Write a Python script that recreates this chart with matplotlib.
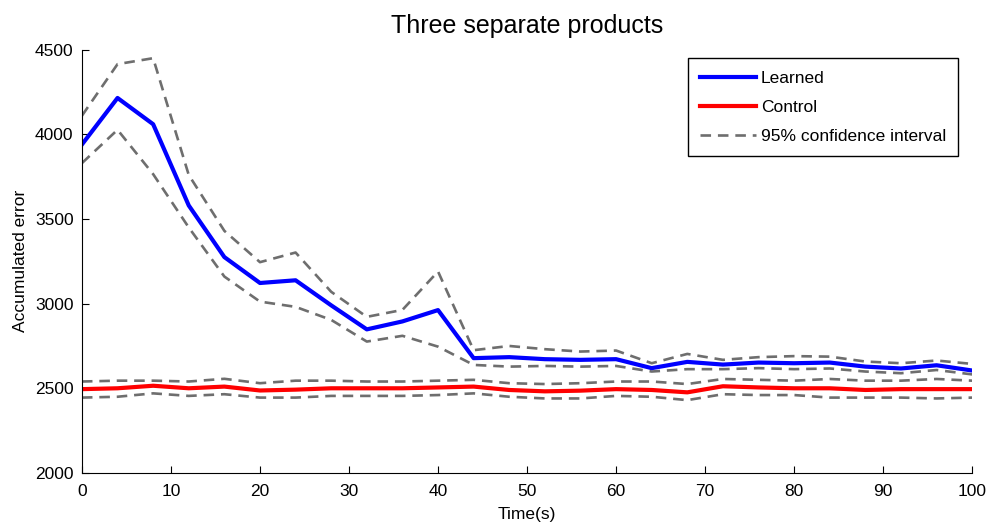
import matplotlib
matplotlib.use("Agg")
import matplotlib.pyplot as plt
import numpy as np

plt.rcParams['font.family'] = ['Liberation Sans', 'DejaVu Sans']

# time axis (s)
t = np.arange(0, 101, 4)

learned = [3940, 4215, 4060, 3580, 3275, 3122, 3138, 2990, 2848, 2895, 2962,
           2678, 2684, 2672, 2668, 2672, 2619, 2656, 2640, 2652, 2648, 2652,
           2628, 2617, 2636, 2605]
learned_hi = [4110, 4415, 4450, 3760, 3430, 3245, 3302, 3070, 2922, 2963, 3190,
              2725, 2750, 2731, 2717, 2723, 2648, 2703, 2668, 2684, 2690, 2687,
              2658, 2648, 2664, 2644]
learned_lo = [3830, 4027, 3765, 3450, 3160, 3012, 2981, 2904, 2776, 2810, 2746,
              2638, 2628, 2632, 2628, 2632, 2599, 2613, 2613, 2619, 2613, 2617,
              2599, 2589, 2608, 2582]

control = [2495, 2500, 2515, 2500, 2510, 2487, 2492, 2500, 2500, 2500, 2505,
           2510, 2490, 2482, 2486, 2495, 2490, 2476, 2512, 2505, 2500, 2500,
           2490, 2495, 2495, 2495]
control_hi = [2540, 2545, 2545, 2540, 2556, 2530, 2545, 2545, 2540, 2540, 2545,
              2550, 2530, 2525, 2530, 2540, 2540, 2525, 2555, 2550, 2545, 2555,
              2545, 2545, 2555, 2545]
control_lo = [2445, 2450, 2470, 2455, 2465, 2445, 2445, 2455, 2455, 2455, 2460,
              2470, 2450, 2440, 2440, 2455, 2450, 2430, 2465, 2460, 2460, 2445,
              2445, 2445, 2440, 2445]

fig = plt.figure(figsize=(9.87, 5.29), dpi=100)
ax = fig.add_axes([0.083, 0.106, 0.902, 0.8])

ci_style = dict(color='#6e6e6e', linewidth=1.9, dashes=(4, 2.6))

ax.plot(t, learned_hi, **ci_style)
ax.plot(t, learned_lo, **ci_style)
ax.plot(t, control_hi, **ci_style)
ax.plot(t, control_lo, **ci_style)
l1, = ax.plot(t, learned, color='#0000ff', linewidth=3)
l2, = ax.plot(t, control, color='#ff0000', linewidth=3)
l3, = ax.plot([], [], **ci_style)

ax.set_xlim(0, 100)
ax.set_ylim(2000, 4500)
ax.set_xticks(np.arange(0, 101, 10))
ax.set_yticks(np.arange(2000, 4501, 500))
ax.tick_params(direction='in', length=5, labelsize=12.5)
ax.tick_params(axis='x', pad=8)
ax.tick_params(axis='y', pad=6)
ax.spines['top'].set_visible(False)
ax.spines['right'].set_visible(False)

ax.set_title("Three separate products", fontsize=18, pad=12)
ax.set_xlabel("Time(s)", fontsize=12.5, labelpad=6)
ax.set_ylabel("Accumulated error", fontsize=12.5, labelpad=5)

leg = ax.legend([l1, l2, l3], ["Learned", "Control", "95% confidence interval"],
                loc='upper right', bbox_to_anchor=(0.994, 1.0), fontsize=12.5,
                fancybox=False, edgecolor='black', framealpha=1,
                handlelength=3.2, handletextpad=0.3, borderpad=0.7, labelspacing=0.8)
leg.get_frame().set_linewidth(1)

fig.savefig("out.png", dpi=100)
